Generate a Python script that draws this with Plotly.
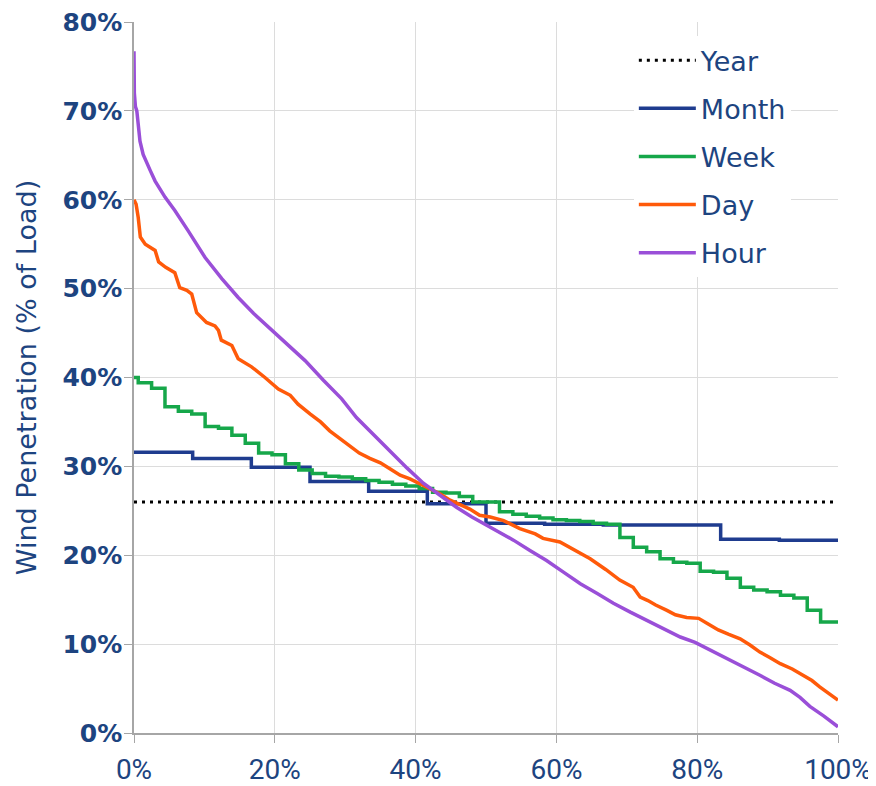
import numpy as np
import plotly.graph_objects as go

# ---------------- data (percent units) ----------------
year_value = 26.0

month_values = [31.6, 30.9, 29.9, 28.3, 27.2, 25.8, 23.6, 23.5, 23.4, 23.4, 21.8, 21.7]

# first partial week, then 52 weekly steps
week_first_edge = 0.6
week_values = [40.0, 39.4, 38.8, 36.7, 36.2, 35.9, 34.5, 34.3, 33.5, 32.6,
               31.5, 31.3, 30.3, 29.6, 29.2, 28.9, 28.8, 28.6, 28.4, 28.2,
               28.0, 27.8, 27.5, 27.1, 27.0, 26.6, 26.0, 26.0, 24.9, 24.6,
               24.4, 24.2, 24.0, 23.9, 23.8, 23.6, 23.5, 22.0, 20.9, 20.4,
               19.6, 19.2, 19.1, 18.2, 18.1, 17.4, 16.4, 16.1, 15.9, 15.5,
               15.2, 13.8, 12.5]

day_x = [0, 0.3, 0.6, 0.9, 1.6, 3.0, 3.5, 4.5, 5.8, 6.5,
         7.5, 8.2, 8.9, 10.3, 11.5, 12.0, 12.4, 13.9, 14.8, 16.7,
         18.6, 20.5, 22.2, 23.3, 25.0, 26.5, 27.8, 29.5, 30.7, 32.0,
         33.5, 35.0, 36.4, 37.8, 39.2, 40.5, 42.0, 43.5, 44.9, 46.5,
         47.7, 49.1, 50.6, 52.5, 54.8, 57.0, 58.1, 60.5, 62.5, 64.8,
         67.0, 69.0, 70.9, 71.9, 73.0, 74.1, 75.7, 76.9, 78.5, 80.2,
         81.5, 83.0, 84.5, 86.1, 87.5, 88.9, 90.3, 91.8, 93.5, 95.1,
         96.3, 97.4, 98.8, 100]
day_y = [60.0, 59.5, 58.0, 55.8, 55.0, 54.3, 53.0, 52.4, 51.8, 50.1,
         49.8, 49.4, 47.3, 46.2, 45.8, 45.3, 44.2, 43.6, 42.1, 41.2,
         40.0, 38.7, 38.0, 37.0, 35.9, 35.0, 34.0, 33.0, 32.2, 31.5,
         30.9, 30.4, 29.7, 29.0, 28.6, 28.1, 27.5, 26.9, 26.2, 25.6,
         25.2, 24.5, 24.3, 23.9, 23.0, 22.4, 21.9, 21.5, 20.6, 19.6,
         18.4, 17.2, 16.4, 15.3, 14.9, 14.4, 13.8, 13.3, 13.0, 12.9,
         12.3, 11.6, 11.1, 10.6, 9.9, 9.1, 8.5, 7.8, 7.2, 6.5,
         5.9, 5.2, 4.4, 3.7]

hour_x = [0, 0.05, 0.2, 0.4, 0.85, 1.3, 2.3, 3.0, 4.4, 5.8,
          7.7, 10.1, 12.5, 14.8, 17.0, 19.6, 22.0, 24.3, 26.9, 29.5,
          31.6, 34.0, 36.4, 38.8, 41.1, 43.5, 45.8, 48.0, 50.6, 53.9,
          56.3, 58.6, 61.0, 63.4, 65.8, 68.1, 70.5, 72.8, 75.2, 77.6,
          79.7, 82.0, 84.2, 86.5, 88.9, 91.0, 93.2, 94.6, 96.0, 98.0, 100]
hour_y = [76.7, 72.0, 70.5, 70.0, 66.6, 65.1, 63.3, 62.1, 60.3, 58.8,
          56.5, 53.5, 51.1, 49.0, 47.2, 45.3, 43.6, 41.9, 39.7, 37.6,
          35.5, 33.6, 31.6, 29.8, 28.1, 26.7, 25.4, 24.3, 23.2, 21.7,
          20.5, 19.4, 18.1, 16.8, 15.7, 14.6, 13.6, 12.7, 11.7, 10.8,
          10.2, 9.3, 8.4, 7.5, 6.5, 5.6, 4.8, 4.0, 3.0, 1.9, 0.7]

x_ticks = [0, 20, 40, 60, 80, 100]
x_tick_labels = ["0%", "20%", "40%", "60%", "80%", "100%"]
y_ticks = [0, 10, 20, 30, 40, 50, 60, 70, 80]
y_tick_labels = ["0%", "10%", "20%", "30%", "40%", "50%", "60%", "70%", "80%"]

# ---------------- styling ----------------
NAVY = "#1d4480"
C_MONTH = "#1f3c8f"
C_WEEK = "#16a74a"
C_DAY = "#ff5a0a"
C_HOUR = "#9a4fd8"
GRID = "#dcdcdc"
AXIS = "#a6a6a6"
LW = 3.5

# step edges
month_x = list(np.linspace(0, 100, len(month_values) + 1))
month_y = month_values + [month_values[-1]]

n_full = len(week_values) - 1
week_step = (100 - week_first_edge) / (n_full + 0.3)
week_edges = [0.0] + [week_first_edge + k * week_step for k in range(n_full)] + [100.0]
week_y = week_values + [week_values[-1]]

fig = go.Figure()
fig.add_trace(go.Scatter(x=[0, 100], y=[year_value, year_value], mode="lines", name="Year",
                         line=dict(color="#000000", width=3, dash="3px,5px"), legendgroup="a"))
fig.add_trace(go.Scatter(x=month_x, y=month_y, mode="lines", name="Month", line_shape="hv",
                         line=dict(color=C_MONTH, width=LW), legendgroup="b"))
fig.add_trace(go.Scatter(x=week_edges, y=week_y, mode="lines", name="Week", line_shape="hv",
                         line=dict(color=C_WEEK, width=LW), legendgroup="c"))
fig.add_trace(go.Scatter(x=day_x, y=day_y, mode="lines", name="Day",
                         line=dict(color=C_DAY, width=LW), legendgroup="d"))
fig.add_trace(go.Scatter(x=hour_x, y=hour_y, mode="lines", name="Hour",
                         line=dict(color=C_HOUR, width=LW), legendgroup="e"))

fig.update_layout(
    width=868, height=778,
    margin=dict(l=126, r=38, t=14, b=53, autoexpand=False),
    plot_bgcolor="white", paper_bgcolor="white",
    showlegend=True,
    legend=dict(x=0.710, y=0.980, xanchor="left", yanchor="top",
                bgcolor="rgba(255,255,255,1)", borderwidth=0,
                font=dict(family="DejaVu Sans", size=27, color=NAVY),
                tracegroupgap=10, itemwidth=57, traceorder="grouped"),
)
fig.update_xaxes(range=[0, 100], tickmode="array", tickvals=x_ticks, ticktext=x_tick_labels,
                 showgrid=True, gridcolor=GRID, gridwidth=1,
                 showline=True, linecolor=AXIS, linewidth=1.5,
                 ticks="outside", ticklen=8, tickcolor=AXIS,
                 ticklabelstandoff=3, automargin=False, ticklabeloverflow="allow",
                 tickfont=dict(family="Roboto", size=28, color=NAVY),
                 zeroline=False)
fig.update_yaxes(range=[0, 80], tickmode="array", tickvals=y_ticks, ticktext=y_tick_labels,
                 showgrid=True, gridcolor=GRID, gridwidth=1,
                 showline=True, linecolor=AXIS, linewidth=1.5,
                 ticks="outside", ticklen=8, tickcolor=AXIS, automargin=False,
                 ticklabeloverflow="allow", ticklabelstandoff=-3,
                 tickfont=dict(family="DejaVu Sans", size=25, color=NAVY, weight="bold"),
                 title=dict(text="Wind Penetration (% of Load)", standoff=18,
                            font=dict(family="DejaVu Sans", size=27, color=NAVY)),
                 zeroline=False)

fig.write_html("out.html")
